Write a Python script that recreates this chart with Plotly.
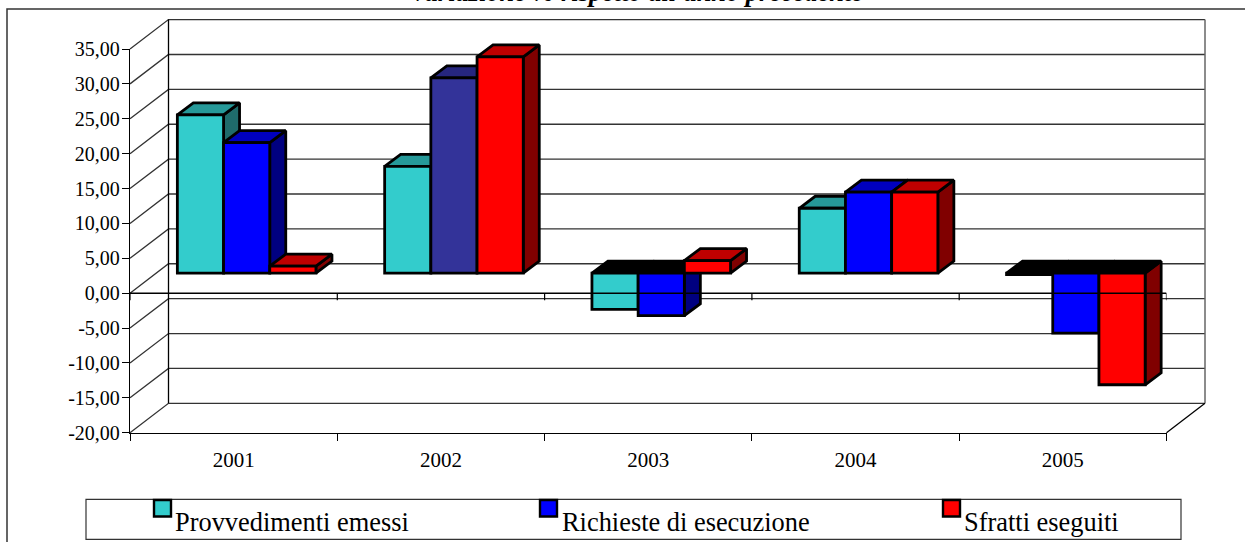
import plotly.graph_objects as go

W, H = 1245, 542
categories = ["2001", "2002", "2003", "2004", "2005"]
series_names = ["Provvedimenti emessi", "Richieste di esecuzione", "Sfratti eseguiti"]
provvedimenti = [22.7, 15.3, -5.2, 9.3, -0.2]
richieste = [18.7, 28.0, -6.1, 11.6, -8.6]
sfratti = [1.0, 31.0, 1.8, 11.6, -16.0]
y_ticks = [-20, -15, -10, -5, 0, 5, 10, 15, 20, 25, 30, 35]
y_labels = [f"{v:.2f}".replace(".", ",") for v in y_ticks]

# plot geometry in page pixels
L, R, T, B = 130.0, 1166.5, 49.0, 432.7
UX = (R - L) / 5
UY = (B - T) / 55
WALL_DX, WALL_DY = 38.5 / UX, 29.4 / UY
BAR_W = 46.2 / UX
BAR_DX, BAR_DY = 16.0 / UX, 12.0 / UY
SHIFT_X, SHIFT_Y = 13.0 / UX, 2.87

series = [provvedimenti, richieste, sfratti]
front = [["#33CCCC"] * 5, ["#0000FF", "#333399", "#0000FF", "#0000FF", "#0000FF"], ["#FF0000"] * 5]
top = [["#269999"] * 5, ["#0000BF", "#26267F", "#0000BF", "#0000BF", "#0000BF"], ["#BF0000"] * 5]
side = [["#1F6B6B"] * 5, ["#000080", "#1A1A66", "#000080", "#000080", "#000080"], ["#800000"] * 5]
NEG_TOP = "#000000"

fig = go.Figure()

def line(xs, ys, color="#000000", width=1.3, axes=("x", "y")):
    fig.add_trace(go.Scatter(x=xs, y=ys, mode="lines", line=dict(color=color, width=width),
                             hoverinfo="skip", showlegend=False,
                             xaxis=axes[0], yaxis=axes[1]))

# walls, on the full-page subplot that carries the depth of the picture
for v in y_ticks:
    line([0, WALL_DX, 5 + WALL_DX], [v, v + WALL_DY, v + WALL_DY], color="#333333")
line([WALL_DX, WALL_DX], [-20 + WALL_DY, 35 + WALL_DY])
line([5 + WALL_DX, 5 + WALL_DX], [-20 + WALL_DY, 35 + WALL_DY], color="#666666", width=1.5)
line([5, 5 + WALL_DX], [-20, -20 + WALL_DY])

# depth faces, behind the front faces
def poly(xs, ys, fill):
    fig.add_trace(go.Scatter(x=xs, y=ys, mode="lines", fill="toself", fillcolor=fill,
                             line=dict(color="#000000", width=2.8), hoverinfo="skip",
                             showlegend=False))

for s, vals in enumerate(series):
    for i, v in enumerate(vals):
        x0 = i + 0.5 + SHIFT_X + (s - 1.5) * BAR_W
        x1 = x0 + BAR_W
        y_base = SHIFT_Y
        y_end = v + SHIFT_Y
        y_hi = max(y_base, y_end)
        y_lo = min(y_base, y_end)
        poly([x1, x1 + BAR_DX, x1 + BAR_DX, x1, x1], [y_lo, y_lo + BAR_DY, y_hi + BAR_DY, y_hi, y_lo], side[s][i])
        poly([x0, x0 + BAR_DX, x1 + BAR_DX, x1, x0], [y_hi, y_hi + BAR_DY, y_hi + BAR_DY, y_hi, y_hi],
             NEG_TOP if v < 0 else top[s][i])

# front faces: real bars on the front subplot
for s, vals in enumerate(series):
    fig.add_trace(go.Bar(x=[i + 0.5 + SHIFT_X + (s - 1) * BAR_W for i in range(5)], y=vals,
                         base=SHIFT_Y, width=BAR_W, name=series_names[s],
                         marker=dict(color=front[s], line=dict(color="#000000", width=2.8)),
                         xaxis="x2", yaxis="y2", showlegend=False))

# category axis crossing at zero, in front of the bars
line([0, 5], [0, 0], width=1.5, axes=("x2", "y2"))
for i in range(6):
    line([i, i], [0, -1], width=1.2, axes=("x2", "y2"))

def px(x):
    return x / W

def py(y):
    return 1 - y / H

xd = [px(L), px(R)]
yd = [py(B), py(T)]
shapes = [
    dict(type="rect", xref="paper", yref="paper", x0=px(7), x1=px(1260), y0=py(9), y1=py(560),
         line=dict(color="#333333", width=1.5), layer="below"),
    dict(type="rect", xref="paper", yref="paper", x0=px(86), x1=px(1181), y0=py(499.3), y1=py(539.3),
         line=dict(color="#333333", width=1.2)),
]
legend_cols = ["#33CCCC", "#0000FF", "#FF0000"]
legend_sw = [154, 540, 943]
legend_tx = [173, 560, 962]
annotations = [dict(text="<b><i>Variazione % rispetto all'anno precedente</i></b>", xref="paper", yref="paper",
                    x=px(636), y=py(9), xanchor="center", yanchor="bottom", showarrow=False,
                    font=dict(family="Liberation Serif", size=26.4, color="#000000"))]
for sw, tx, c, n in zip(legend_sw, legend_tx, legend_cols, series_names):
    shapes.append(dict(type="rect", xref="paper", yref="paper", x0=px(sw), x1=px(sw + 17), y0=py(500), y1=py(516.5),
                       fillcolor=c, line=dict(color="#000000", width=2.4)))
    annotations.append(dict(text=n, xref="paper", yref="paper", x=px(tx), y=py(522), xanchor="left", yanchor="middle",
                            showarrow=False, font=dict(family="Liberation Serif", size=26.4, color="#000000")))

fig.update_layout(
    width=W, height=H, margin=dict(l=0, r=0, t=0, b=0, autoexpand=False), paper_bgcolor="#FFFFFF", plot_bgcolor="rgba(0,0,0,0)",
    font=dict(family="Liberation Serif", color="#000000"), showlegend=False, barmode="overlay",
    shapes=shapes, annotations=annotations,
    xaxis=dict(domain=[0, 1], range=[-L / UX, (W - L) / UX], visible=False),
    yaxis=dict(domain=[0, 1], range=[-20 - (H - B) / UY, 35 + T / UY], visible=False),
    xaxis2=dict(domain=xd, range=[0, 5], anchor="y2", tickmode="array", tickvals=[i + 0.5 for i in range(5)], ticktext=categories,
                ticks="", tickfont=dict(size=21), showgrid=False, zeroline=False, showline=True, linecolor="#000000",
                linewidth=1.3, ticklabelstandoff=8,
                minor=dict(tickmode="array", tickvals=list(range(6)), ticks="outside", ticklen=7, tickcolor="#000000", tickwidth=1.2)),
    yaxis2=dict(domain=yd, range=[-20, 35], anchor="x2", tickmode="array", tickvals=y_ticks, ticktext=y_labels,
                ticks="outside", ticklen=7, tickcolor="#000000", tickfont=dict(size=20), showgrid=False, zeroline=False,
                showline=True, linecolor="#000000", linewidth=1.3, ticklabelstandoff=-2),
)
fig.write_html("out.html", post_script="document.body.style.margin='0';", config={"displayModeBar": False})
